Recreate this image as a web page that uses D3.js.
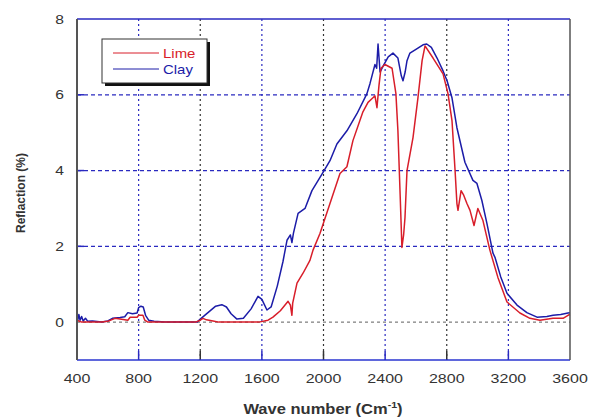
<!DOCTYPE html>
<meta charset="utf-8">
<style>
  body { margin: 0; background: #fff; }
  text { font-family: "Liberation Sans", Arial, sans-serif; }
</style>
<svg width="589" height="417"></svg>
<script src="https://d3js.org/d3.v7.min.js"></script>
<script>
// values
var clayWave = [400,405,412,420,430,440,455,470,500,560,600,630,680,710,730,760,790,800,815,830,845,865,900,970,1100,1180,1200,1250,1300,1340,1370,1400,1438,1480,1530,1575,1600,1633,1660,1700,1737,1763,1785,1795,1805,1835,1880,1925,1997,2042,2087,2152,2217,2282,2302,2334,2345,2354,2367,2386,2420,2451,2483,2505,2516,2530,2542,2561,2600,2646,2670,2700,2737,2776,2802,2834,2866,2918,2970,2996,3028,3061,3100,3113,3150,3191,3256,3320,3386,3450,3490,3540,3587,3600];
var clayValue = [0.3,0.05,0.2,0.05,0.15,0.03,0.1,0.02,0.03,0.0,0.03,0.1,0.12,0.14,0.25,0.22,0.24,0.38,0.42,0.4,0.18,0.05,0.02,0.0,0.0,0.0,0.08,0.25,0.42,0.46,0.4,0.22,0.08,0.1,0.35,0.68,0.6,0.32,0.4,0.95,1.6,2.16,2.3,2.1,2.35,2.87,3.0,3.47,3.95,4.26,4.7,5.05,5.5,6.03,6.3,6.8,6.7,7.34,6.6,6.75,7.0,7.1,6.97,6.5,6.37,6.6,6.9,7.1,7.2,7.32,7.34,7.25,6.97,6.63,6.37,5.92,5.13,4.22,3.74,3.66,3.21,2.6,1.82,1.71,1.2,0.76,0.45,0.25,0.13,0.15,0.18,0.2,0.24,0.25];

var limeWave = [400,430,500,560,600,647,700,730,745,790,800,828,840,860,1000,1170,1200,1218,1240,1283,1320,1580,1640,1672,1720,1770,1785,1795,1800,1828,1867,1912,1932,1977,2042,2107,2152,2191,2256,2289,2321,2334,2347,2360,2373,2399,2445,2470,2483,2498,2509,2520,2529,2542,2581,2613,2640,2659,2711,2776,2808,2834,2854,2866,2873,2893,2910,2931,2951,2977,3002,3035,3080,3132,3191,3275,3340,3405,3490,3555,3587,3600];
var limeValue = [0.05,0.0,0.0,0.0,0.02,0.1,0.07,0.05,0.13,0.13,0.18,0.18,0.05,0.0,0.0,0.0,0.05,0.1,0.06,0.03,0.0,0.0,0.05,0.13,0.3,0.55,0.45,0.18,0.5,1.03,1.29,1.63,1.9,2.34,3.13,3.92,4.1,4.79,5.55,5.8,5.92,5.97,5.66,6.24,6.7,6.8,6.7,6.03,5.05,3.3,1.97,2.3,2.76,4.0,4.87,5.92,6.9,7.29,6.97,6.55,6.03,5.32,4.0,3.13,2.95,3.47,3.35,3.13,2.95,2.55,3.0,2.68,1.9,1.18,0.53,0.24,0.1,0.05,0.1,0.1,0.18,0.2];

var xTicks = [400,800,1200,1600,2000,2400,2800,3200,3600];
var yTicks = [0,2,4,6,8];
var seriesNames = ['Lime','Clay'];
var seriesColors = ['#d81e2a','#1c1ca8'];

var svg = d3.select('svg');
var plotLeft = 77, plotRight = 570, plotTop = 19, plotBottom = 360;

var x = d3.scaleLinear().domain([400,3600]).range([plotLeft,plotRight]);
var y = d3.scaleLinear().domain([-1,8]).range([plotBottom,plotTop]);

// grid
var blueGrid = '#2a2ac0';
svg.append('g').selectAll('line').data([800,1200,1600,2000,2400,2800,3200]).enter()
  .append('line')
  .attr('x1', d => x(d)).attr('x2', d => x(d))
  .attr('y1', plotTop).attr('y2', plotBottom)
  .attr('stroke', d => (d / 400) % 2 == 0 ? blueGrid : '#333')
  .attr('stroke-width', 1.2)
  .attr('stroke-dasharray', '2,3');

svg.append('g').selectAll('line').data([0,2,4,6]).enter()
  .append('line')
  .attr('x1', plotLeft).attr('x2', plotRight)
  .attr('y1', d => y(d)).attr('y2', d => y(d))
  .attr('stroke', d => d == 0 ? '#333' : blueGrid)
  .attr('stroke-width', d => d == 0 ? 0.8 : 1.2)
  .attr('stroke-dasharray', d => d == 0 ? '3,3' : '4,3');

// inner ticks
svg.append('g').selectAll('line').data(xTicks.slice(1, -1)).enter()
  .append('line')
  .attr('x1', d => x(d)).attr('x2', d => x(d))
  .attr('y1', plotBottom).attr('y2', plotBottom - 9)
  .attr('stroke', d => (d / 400) % 2 == 0 ? blueGrid : '#333')
  .attr('stroke-width', 1.5);
svg.append('g').selectAll('line').data([2,4,6]).enter()
  .append('line')
  .attr('x1', plotLeft).attr('x2', plotLeft + 7)
  .attr('y1', d => y(d)).attr('y2', d => y(d))
  .attr('stroke', blueGrid).attr('stroke-width', 1.5);

// lines
var line = d3.line().x(d => x(d[0])).y(d => y(d[1]));
var clay = d3.zip(clayWave, clayValue);
var lime = d3.zip(limeWave, limeValue);

svg.append('path').datum(clay)
  .attr('d', line).attr('fill', 'none')
  .attr('stroke', seriesColors[1]).attr('stroke-width', 1.5)
  .attr('stroke-linejoin', 'round');
svg.append('path').datum(lime)
  .attr('d', line).attr('fill', 'none')
  .attr('stroke', seriesColors[0]).attr('stroke-width', 1.5)
  .attr('stroke-linejoin', 'round');

// frame
svg.append('line').attr('x1', plotLeft).attr('x2', plotRight).attr('y1', plotTop).attr('y2', plotTop)
  .attr('stroke', '#2a2ac0').attr('stroke-width', 1.5);
svg.append('line').attr('x1', plotLeft).attr('x2', plotRight).attr('y1', plotBottom).attr('y2', plotBottom)
  .attr('stroke', '#2a35d0').attr('stroke-width', 1.5);
svg.append('line').attr('x1', plotLeft).attr('x2', plotLeft).attr('y1', plotTop).attr('y2', plotBottom)
  .attr('stroke', '#555').attr('stroke-width', 2);
svg.append('line').attr('x1', plotRight).attr('x2', plotRight).attr('y1', plotTop).attr('y2', plotBottom)
  .attr('stroke', '#555').attr('stroke-width', 1.5);

// tick labels (the original is stretched sideways)
svg.append('g').selectAll('text').data(xTicks).enter()
  .append('text')
  .attr('transform', d => 'translate(' + x(d) + ',383) scale(1.28,1)')
  .attr('text-anchor', 'middle')
  .attr('font-size', 12.5).attr('fill', '#333')
  .text(d => d);
svg.append('g').selectAll('text').data(yTicks).enter()
  .append('text')
  .attr('transform', d => 'translate(64,' + (y(d) + 4.5) + ') scale(1.25,1)')
  .attr('text-anchor', 'end')
  .attr('font-size', 12.5).attr('fill', '#333')
  .text(d => d);

// axis titles
var xt = svg.append('text')
  .attr('transform', 'translate(323,414) scale(1.18,1)')
  .attr('text-anchor', 'middle')
  .attr('font-size', 14).attr('font-weight', 'bold').attr('fill', '#333');
xt.append('tspan').text('Wave number (Cm');
xt.append('tspan').attr('dy', -6).attr('font-size', 9).text('-1');
xt.append('tspan').attr('dy', 6).text(')');

svg.append('text')
  .attr('transform', 'translate(25,193) rotate(-90)')
  .attr('text-anchor', 'middle')
  .attr('font-size', 12).attr('font-weight', 'bold').attr('fill', '#333')
  .text('Reflaction (%)');

// legend
var lg = svg.append('g');
lg.append('rect').attr('x', 105).attr('y', 42).attr('width', 105).attr('height', 44).attr('fill', '#111');
lg.append('rect').attr('x', 102).attr('y', 39).attr('width', 105).attr('height', 44)
  .attr('fill', '#fff').attr('stroke', '#333').attr('stroke-width', 1);
seriesNames.forEach(function (name, i) {
  var ly = 53 + i * 16;
  lg.append('line').attr('x1', 113).attr('x2', 159).attr('y1', ly).attr('y2', ly)
    .attr('stroke', seriesColors[i]).attr('stroke-width', 1);
  lg.append('text').attr('transform', 'translate(163,' + (ly + 5) + ') scale(1.15,1)')
    .attr('font-size', 13).attr('fill', seriesColors[i]).text(name);
});
</script>
